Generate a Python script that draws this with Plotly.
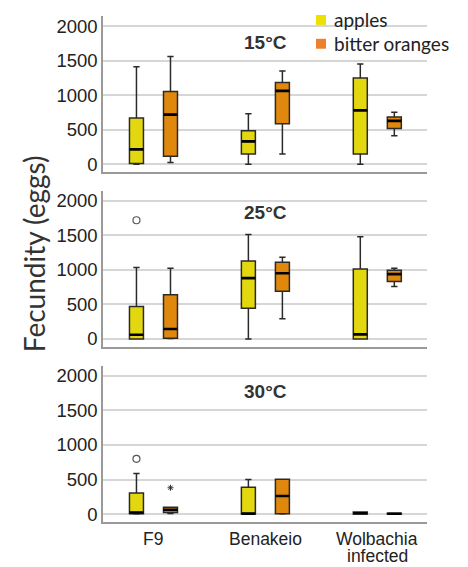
import plotly.graph_objects as go

categories = ["F9", "Benakeio", "Wolbachia<br>infected"]
temperatures = ["15°C", "25°C", "30°C"]
series_names = ["apples", "bitter oranges"]

# rows: 15°C, 25°C, 30°C ; columns: F9, Benakeio, Wolbachia infected
apples_lower = [[0, 0, 0], [0, 0, 0], [0, 0, 0]]
apples_q1 = [[10, 148, 148], [0, 445, 0], [5, 0, 0]]
apples_median = [[215, 330, 780], [62, 880, 67], [24, 5, 12]]
apples_q3 = [[670, 483, 1249], [469, 1129, 1014], [305, 390, 30]]
apples_upper = [[1411, 732, 1450], [1033, 1512, 1478], [586, 500, 30]]

oranges_lower = [[24, 148, 411], [5, 292, 761], [8, 0, 0]]
oranges_q1 = [[115, 584, 517], [10, 689, 833], [24, 5, 0]]
oranges_median = [[718, 1062, 627], [144, 952, 938], [62, 262, 6]]
oranges_q3 = [[1053, 1182, 684], [641, 1110, 995], [100, 505, 14]]
oranges_upper = [[1560, 1349, 751], [1024, 1182, 1024], [100, 505, 14]]

# outliers: (series index, temperature index, category index, value, kind)
outlier_series = [0, 0, 1]
outlier_temp = [1, 2, 2]
outlier_cat = [0, 0, 0]
outlier_value = [1718, 800, 381]
outlier_kind = ["circle", "circle", "extreme"]

box_fill = ["#E3D80F", "#E0880E"]
legend_fill = ["#EEE000", "#EE7F2D"]

stats = [
    (apples_lower, apples_q1, apples_median, apples_q3, apples_upper),
    (oranges_lower, oranges_q1, oranges_median, oranges_q3, oranges_upper),
]

# the page body adds an 8px margin; work in reference pixel coords and shift
OFF = 8
W, H = 468 - OFF, 567 - OFF


def px_x(x):
    return (x - OFF) / W


def px_y(y):
    return 1 - (y - OFF) / H


y_range = [-110, 2140]
# panel pixel extents in the reference (top, bottom)
panels_px = [(15.4, 172.0), (191.4, 348.0), (367.8, 524.4)]
offsets = [-0.152, 0.152]
box_w = 0.125

fig = go.Figure()
for ti in range(3):
    yaxis = "y" if ti == 0 else f"y{ti + 1}"
    xaxis = "x" if ti == 0 else f"x{ti + 1}"
    for si in range(2):
        lo, q1, med, q3, up = stats[si]
        xs = [ci + offsets[si] for ci in range(3)]
        fig.add_trace(go.Box(
            x=xs, q1=q1[ti], median=med[ti], q3=q3[ti],
            lowerfence=lo[ti], upperfence=up[ti],
            width=box_w, whiskerwidth=0.45,
            fillcolor=box_fill[si],
            line=dict(color="#2a2a2a", width=1.5),
            boxpoints=False, showlegend=False, hoverinfo="skip",
            name=series_names[si],
            xaxis=xaxis, yaxis=yaxis,
        ))
        mx, my = [], []
        for ci in range(3):
            mx += [xs[ci] - box_w / 2, xs[ci] + box_w / 2, None]
            my += [med[ti][ci], med[ti][ci], None]
        fig.add_trace(go.Scatter(
            x=mx, y=my, mode="lines", line=dict(color="black", width=2.6),
            showlegend=False, hoverinfo="skip", xaxis=xaxis, yaxis=yaxis,
        ))
    for k in range(len(outlier_value)):
        if outlier_temp[k] != ti:
            continue
        xpos = outlier_cat[k] + offsets[outlier_series[k]]
        if outlier_kind[k] == "circle":
            marker = dict(symbol="circle-open", size=7, color="#555", line=dict(width=1.2))
        else:
            marker = dict(symbol="asterisk-open", size=5, color="#333", line=dict(width=1))
        fig.add_trace(go.Scatter(
            x=[xpos], y=[outlier_value[k]], mode="markers", marker=marker,
            showlegend=False, hoverinfo="skip", xaxis=xaxis, yaxis=yaxis,
        ))

axis_common = dict(
    showgrid=True, gridcolor="#d6d6d6", gridwidth=1.5,
    showline=True, linecolor="#9a9a9a", linewidth=1.5,
    zeroline=False, range=y_range, tickvals=[0, 500, 1000, 1500, 2000],
    ticks="", tickfont=dict(family="Liberation Sans, Arial", size=18.5, color="#222"),
)
x_common = dict(
    range=[-0.451, 2.444], showgrid=False, zeroline=False, showline=True,
    linecolor="#9a9a9a", linewidth=1.5, ticks="", showticklabels=False,
)

layout = dict(
    width=W, height=H, margin=dict(l=0, r=0, t=0, b=0),
    paper_bgcolor="white", plot_bgcolor="white",
    showlegend=False,
)
for ti in range(3):
    top, bot = panels_px[ti]
    dom = [px_y(bot), px_y(top)]
    ykey = "yaxis" if ti == 0 else f"yaxis{ti + 1}"
    xkey = "xaxis" if ti == 0 else f"xaxis{ti + 1}"
    xname = "x" if ti == 0 else f"x{ti + 1}"
    yname = "y" if ti == 0 else f"y{ti + 1}"
    layout[ykey] = dict(axis_common, domain=dom, anchor=xname)
    layout[xkey] = dict(x_common, domain=[px_x(103), px_x(427)], anchor=yname)

fig.update_layout(**layout)

# legend (drawn by hand so that it can sit at the very top, as in the reference)
legend_rows_px = [19, 43]
for si in range(2):
    cy = legend_rows_px[si]
    fig.add_shape(
        type="rect", xref="paper", yref="paper",
        x0=px_x(316), x1=px_x(326), y0=px_y(cy + 5), y1=px_y(cy - 5),
        fillcolor=legend_fill[si], line=dict(width=0),
    )
    fig.add_annotation(
        x=px_x(332), y=px_y(cy), xref="paper", yref="paper",
        text=series_names[si], showarrow=False,
        font=dict(family="Lato", size=19, color="#222"),
        xanchor="left", yanchor="middle",
    )

title_ypos = [0.83, 0.862, 0.839]
for ti in range(3):
    yname = "y" if ti == 0 else f"y{ti + 1}"
    xname = "x" if ti == 0 else f"x{ti + 1}"
    fig.add_annotation(
        x=1, y=title_ypos[ti], xref=xname, yref=f"{yname} domain",
        text=f"<b>{temperatures[ti]}</b>", showarrow=False,
        font=dict(family="Liberation Sans, Arial", size=19, color="#333"),
        xanchor="center", yanchor="middle",
    )

# category labels under the bottom panel (tight line spacing as in the reference)
for ci, label in enumerate(categories):
    for li, line in enumerate(label.split("<br>")):
        fig.add_annotation(
            x=ci, y=px_y(542 + 17 * li), xref="x3", yref="paper",
            text=line, showarrow=False, height=16,
            font=dict(family="Liberation Sans, Arial", size=17.5, color="#222"),
            xanchor="center", yanchor="middle",
        )

fig.add_annotation(
    x=px_x(34), y=px_y(255), xref="paper", yref="paper",
    text="Fecundity (eggs)", textangle=-90, showarrow=False,
    font=dict(family="Lato", size=28, color="#333"),
    xanchor="center", yanchor="middle",
)

fig.write_html("out.html")
